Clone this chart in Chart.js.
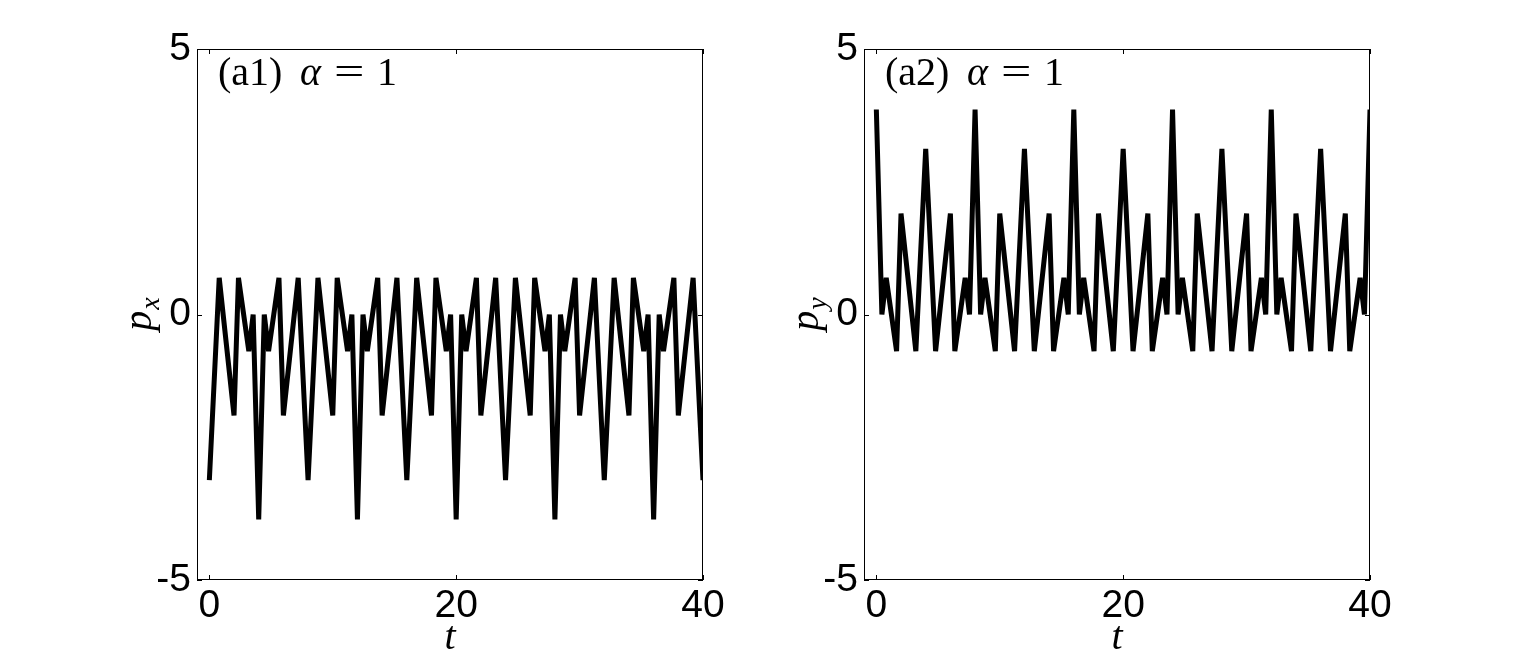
<!DOCTYPE html>
<html>
<head>
<meta charset="utf-8">
<script src="https://cdn.jsdelivr.net/npm/chart.js@4.4.0/dist/chart.umd.min.js"></script>
<style>
html, body { margin: 0; padding: 0; background: #fff; }
#wrap { position: relative; width: 1514px; height: 653px; overflow: hidden; }
canvas { position: absolute; top: 0; }
</style>
</head>
<body>
<div id="wrap">
  <canvas id="chart-px" style="left:0px" width="757" height="653"></canvas>
  <canvas id="chart-py" style="left:757px" width="757" height="653"></canvas>
</div>
<script>
// tick labels
const tTicks = [0, 20, 40];
const pTicks = [-5, 0, 5];

// (a1) p_x(t)
const tX = [
  0, 0.8, 2.0, 2.36, 3.2, 3.55, 4, 4.45, 4.8, 5.64, 6.0, 7.2,
  8, 8.8, 10.0, 10.36, 11.2, 11.55, 12, 12.45, 12.8, 13.64, 14.0, 15.2,
  16, 16.8, 18.0, 18.36, 19.2, 19.55, 20, 20.45, 20.8, 21.64, 22.0, 23.2,
  24, 24.8, 26.0, 26.36, 27.2, 27.55, 28, 28.45, 28.8, 29.64, 30.0, 31.2,
  32, 32.8, 34.0, 34.36, 35.2, 35.55, 36, 36.45, 36.8, 37.64, 38.0, 39.2,
  40
];
const pxVals = [
  -3.12, 0.69, -1.9, 0.69, -0.69, 0, -3.86, 0, -0.69, 0.69, -1.9, 0.69,
  -3.12, 0.69, -1.9, 0.69, -0.69, 0, -3.86, 0, -0.69, 0.69, -1.9, 0.69,
  -3.12, 0.69, -1.9, 0.69, -0.69, 0, -3.86, 0, -0.69, 0.69, -1.9, 0.69,
  -3.12, 0.69, -1.9, 0.69, -0.69, 0, -3.86, 0, -0.69, 0.69, -1.9, 0.69,
  -3.12, 0.69, -1.9, 0.69, -0.69, 0, -3.86, 0, -0.69, 0.69, -1.9, 0.69,
  -3.12
];

// (a2) p_y(t)
const tY = [
  0, 0.45, 0.8, 1.64, 2.0, 3.2, 4, 4.8, 6.0, 6.36, 7.2, 7.55,
  8, 8.45, 8.8, 9.64, 10.0, 11.2, 12, 12.8, 14.0, 14.36, 15.2, 15.55,
  16, 16.45, 16.8, 17.64, 18.0, 19.2, 20, 20.8, 22.0, 22.36, 23.2, 23.55,
  24, 24.45, 24.8, 25.64, 26.0, 27.2, 28, 28.8, 30.0, 30.36, 31.2, 31.55,
  32, 32.45, 32.8, 33.64, 34.0, 35.2, 36, 36.8, 38.0, 38.36, 39.2, 39.55,
  40
];
const pyVals = [
  3.86, 0, 0.69, -0.69, 1.9, -0.69, 3.12, -0.69, 1.9, -0.69, 0.69, 0,
  3.86, 0, 0.69, -0.69, 1.9, -0.69, 3.12, -0.69, 1.9, -0.69, 0.69, 0,
  3.86, 0, 0.69, -0.69, 1.9, -0.69, 3.12, -0.69, 1.9, -0.69, 0.69, 0,
  3.86, 0, 0.69, -0.69, 1.9, -0.69, 3.12, -0.69, 1.9, -0.69, 0.69, 0,
  3.86, 0, 0.69, -0.69, 1.9, -0.69, 3.12, -0.69, 1.9, -0.69, 0.69, 0,
  3.86
];

const SERIF = '"Liberation Serif", "Times New Roman", serif';
const SANS = '"Liberation Sans", Arial, sans-serif';

// box, inside ticks, panel tag and the p_x / p_y axis title
const panelDecor = {
  id: 'panelDecor',
  afterDraw(chart, args, opts) {
    const { ctx, chartArea: a, scales: { x, y } } = chart;
    ctx.save();
    ctx.strokeStyle = '#000';
    ctx.lineWidth = 1;
    ctx.strokeRect(a.left + 0.5, a.top + 0.5, a.right - a.left - 1, a.bottom - a.top - 1);

    const tl = 5;
    ctx.beginPath();
    x.ticks.forEach(t => {
      const px = Math.round(x.getPixelForValue(t.value)) + 0.5;
      ctx.moveTo(px, a.bottom); ctx.lineTo(px, a.bottom - tl);
      ctx.moveTo(px, a.top); ctx.lineTo(px, a.top + tl);
    });
    y.ticks.forEach(t => {
      const py = Math.round(y.getPixelForValue(t.value)) + 0.5;
      ctx.moveTo(a.left, py); ctx.lineTo(a.left + tl, py);
      ctx.moveTo(a.right, py); ctx.lineTo(a.right - tl, py);
    });
    ctx.stroke();

    // panel tag, e.g. (a1) α = 1
    ctx.fillStyle = '#000';
    ctx.textBaseline = 'alphabetic';
    const base = a.top + 36;
    ctx.font = '40px ' + SERIF;
    ctx.fillText('(' + opts.tag + ')', a.left + 21, base);
    ctx.font = 'italic 40px ' + SERIF;
    ctx.fillText('α', a.left + 103, base);
    ctx.font = '40px ' + SERIF;
    ctx.save();
    ctx.translate(a.left + 137, base);
    ctx.scale(1.35, 1);
    ctx.fillText('=', 0, 0);
    ctx.restore();
    ctx.fillText('1', a.left + 180, base);

    // rotated axis title with subscript
    ctx.translate(a.left - 46, (a.top + a.bottom) / 2);
    ctx.rotate(-Math.PI / 2);
    ctx.font = 'italic 40px ' + SERIF;
    const wp = ctx.measureText('p').width;
    ctx.font = 'italic 28px ' + SERIF;
    const ws = ctx.measureText(opts.sub).width;
    const x0 = -(wp + ws) / 2;
    ctx.font = 'italic 40px ' + SERIF;
    ctx.fillText('p', x0, 0);
    ctx.font = 'italic 28px ' + SERIF;
    ctx.fillText(opts.sub, x0 + wp + 1, 8);
    ctx.restore();
  }
};

function makeChart(id, tVals, pVals, conf) {
  const points = tVals.map((t, i) => ({ x: t, y: pVals[i] }));
  return new Chart(document.getElementById(id), {
    type: 'line',
    data: {
      datasets: [{
        data: points,
        borderColor: '#000',
        borderWidth: 5,
        borderJoinStyle: 'bevel',
        pointRadius: 0,
        tension: 0,
        fill: false
      }]
    },
    options: {
      responsive: false,
      animation: false,
      layout: { padding: { left: 0, top: 49, right: conf.padRight, bottom: 0 } },
      plugins: {
        legend: { display: false },
        tooltip: { enabled: false },
        panelDecor: conf
      },
      scales: {
        x: {
          type: 'linear',
          min: -1,
          max: 40,
          afterBuildTicks: s => { s.ticks = tTicks.map(v => ({ value: v })); },
          afterFit: s => { s.height = 73; },
          grid: { display: false, drawTicks: false },
          border: { display: false },
          ticks: { font: { family: SANS, size: 39 }, color: '#000', padding: 3, maxRotation: 0 },
          title: {
            display: true, text: 't', color: '#000',
            font: { family: SERIF, size: 40, style: 'italic', lineHeight: 0.75 },
            padding: 0
          }
        },
        y: {
          type: 'linear',
          min: -5,
          max: 5,
          afterBuildTicks: s => { s.ticks = pTicks.map(v => ({ value: v })); },
          afterFit: s => { s.width = conf.axisLeft; },
          grid: { display: false, drawTicks: false },
          border: { display: false },
          ticks: { font: { family: SANS, size: 39 }, color: '#000', padding: 6 }
        }
      }
    },
    plugins: [panelDecor]
  });
}

makeChart('chart-px', tX, pxVals, { tag: 'a1', sub: 'x', axisLeft: 197, padRight: 54 });
makeChart('chart-py', tY, pyVals, { tag: 'a2', sub: 'y', axisLeft: 107, padRight: 144 });
</script>
</body>
</html>
